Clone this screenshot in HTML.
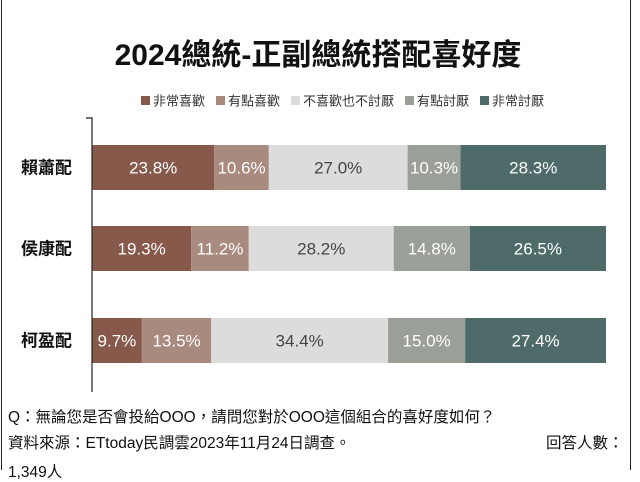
<!DOCTYPE html>
<html><head><meta charset="utf-8"><style>
body{margin:0;width:640px;height:463px;overflow:hidden;background:#fff;font-family:"Liberation Sans","Noto Sans CJK TC",sans-serif;position:relative}
.frame{position:absolute;left:1px;top:0;width:630px;height:470px;border-left:1.5px solid #222;border-right:1.5px solid #222;box-sizing:border-box}
.t{position:absolute;white-space:nowrap;color:#111}
</style></head><body>
<div class="frame"></div>
<div class="t" style="left:0;width:636px;text-align:center;top:30px;font-size:30px;font-weight:bold">2024總統-正副總統搭配喜好度</div>
<svg id="chart" width="640" height="463" style="position:absolute;left:0;top:0"></svg>
<div class="t" style="left:8px;top:405px;font-size:15.5px">Q：無論您是否會投給OOO，請問您對於OOO這個組合的喜好度如何？</div>
<div class="t" style="left:8px;top:431px;font-size:15.5px">資料來源：ETtoday民調雲2023年11月24日調查。</div>
<div class="t" style="left:546px;top:431px;font-size:15.5px">回答人數：</div>
<div class="t" style="left:8px;top:460px;font-size:15.5px">1,349人</div>
<script>
const categories=["賴蕭配","侯康配","柯盈配"];
const seriesNames=["非常喜歡","有點喜歡","不喜歡也不討厭","有點討厭","非常討厭"];
const s1=[23.8,19.3,9.7];
const s2=[10.6,11.2,13.5];
const s3=[27.0,28.2,34.4];
const s4=[10.3,14.8,15.0];
const s5=[28.3,26.5,27.4];
const series=[s1,s2,s3,s4,s5];
const colors=["#87594a","#a98a7f","#dcdcdc","#9a9f98","#4e6b6a"];
const textColors=["#fff","#fff","#444","#fff","#fff"];
const NS="http://www.w3.org/2000/svg";
const svg=document.getElementById('chart');
const x0=92,x1=606,rowTop=[145,226,318],barH=45;
const xs=v=>v/100*(x1-x0);
function mk(t,a){const e=document.createElementNS(NS,t);for(const k in a)e.setAttribute(k,a[k]);svg.appendChild(e);return e;}
let lx=141;
seriesNames.forEach((n,i)=>{
 const r=mk('rect',{x:lx,y:96,width:9,height:9,fill:colors[i]});
 
 
 const t=mk('text',{x:lx+12,y:105.5,'font-size':13,fill:'#333'});
 t.textContent=n;
 
 
 lx+=12+n.length*13+11;
});
categories.forEach((c,ci)=>{
 let cum=0;
 const y=rowTop[ci];
 const lab=mk('text',{x:72,y:y+barH/2+6,'font-size':17,'font-weight':'bold','text-anchor':'end',fill:'#111'});
 lab.textContent=c;
 
 
 series.forEach((s,si)=>{
  const v=s[ci];
  const r=mk('rect',{x:x0+xs(cum),y:y,width:xs(v),height:barH,fill:colors[si]});
  
  
  const t=mk('text',{x:x0+xs(cum+v/2),y:y+barH/2+6,'font-size':17,'text-anchor':'middle',fill:textColors[si]});
  t.textContent=v.toFixed(1)+'%';
  
  
  cum+=v;
 });
});
const ax=mk('path',{d:'M86 118 H92 V392',stroke:'#222','stroke-width':1.2,fill:'none'});


</script>
</body></html>
